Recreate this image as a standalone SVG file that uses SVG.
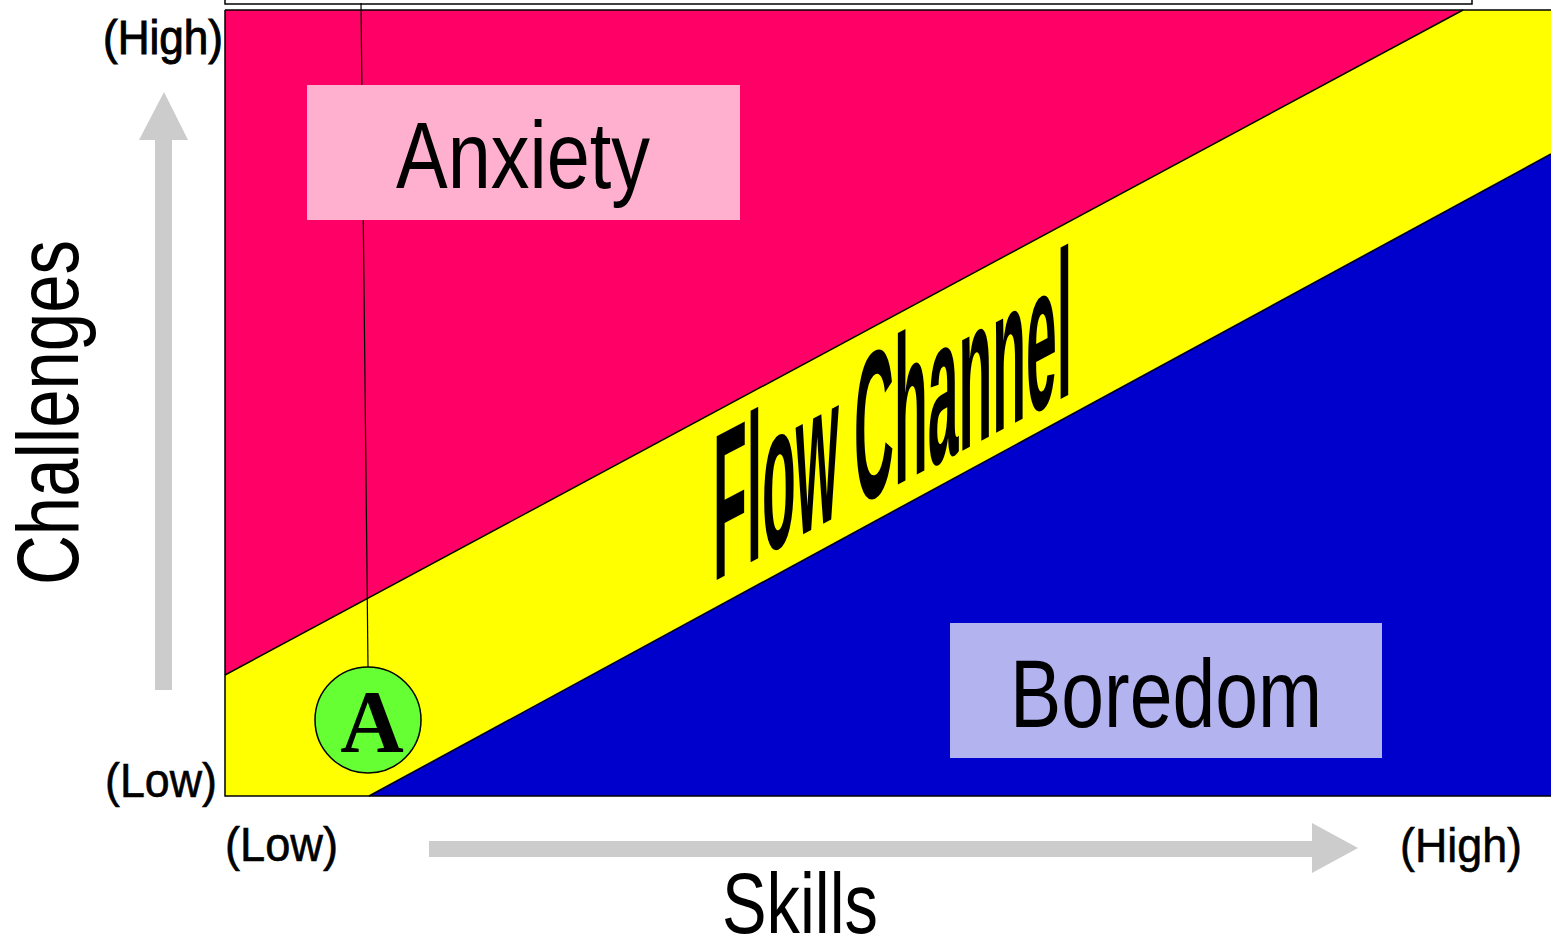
<svg xmlns="http://www.w3.org/2000/svg" width="1551" height="938" viewBox="0 0 1551 938">
<style>
.lbl{font-family:"Liberation Sans",Arial,sans-serif;fill:#000}
.edge{stroke:#000;stroke-width:1.5;fill:none}
.arrow{fill:#CCCCCC}
</style>
<rect width="1551" height="938" fill="#FFFFFF"/>
<g id="top-box">
<rect x="225" y="-10" width="1247" height="14" fill="#FFFFFF" stroke="#000" stroke-width="1.5"/>
</g>
<g id="anxiety-region">
<polygon points="225,10 1463,10 225,675" fill="#FF0066"/>
</g>
<g id="flow-region">
<polygon points="225,675 1463,10 1551,10 1551,154 369,796 225,796" fill="#FFFF00"/>
</g>
<g id="boredom-region">
<polygon points="369,796 1551,154 1551,796" fill="#0000CC"/>
</g>
<g id="connectors">
<line class="edge" x1="225" y1="675" x2="1463" y2="10"/>
<line class="edge" x1="369" y1="796" x2="1551" y2="154"/>
<polyline class="edge" points="225,10 225,796 1551,796"/>
<line class="edge" x1="225" y1="10" x2="1551" y2="10"/>
<line stroke="#000" stroke-width="1.2" x1="361" y1="3" x2="368" y2="667"/>
<rect class="arrow" x="155" y="139" width="17" height="551"/>
<polygon class="arrow" points="139,140 188,140 164,92"/>
<rect class="arrow" x="429" y="841" width="884" height="16"/>
<polygon class="arrow" points="1312,823 1312,873 1358,848"/>
</g>
<g id="anxiety">
<rect x="307" y="85" width="433" height="135" fill="#FFB0CF"/>
<text class="lbl" x="396" y="188" font-size="95" textLength="254" lengthAdjust="spacingAndGlyphs">Anxiety</text>
</g>
<g id="boredom">
<rect x="950" y="623" width="432" height="135" fill="#B3B3EF"/>
<text class="lbl" x="1010" y="727" font-size="96" textLength="312" lengthAdjust="spacingAndGlyphs">Boredom</text>
</g>
<g id="flow-channel">
<text class="lbl" font-weight="bold" font-size="209" transform="matrix(1,-0.527,0,1,713,582)" x="0" y="0" textLength="359" lengthAdjust="spacingAndGlyphs">Flow Channel</text>
</g>
<g id="point-a">
<circle cx="368" cy="720" r="53" fill="#66FF33" stroke="#000" stroke-width="1.5"/>
<text x="372" y="751" font-family="'Liberation Serif','Times New Roman',serif" font-weight="bold" font-size="88" text-anchor="middle">A</text>
</g>
<g id="axis-labels">
<text class="lbl" x="103" y="54" font-size="48" stroke="#000" stroke-width="1" textLength="120" lengthAdjust="spacingAndGlyphs">(High)</text>
<text class="lbl" x="105" y="797" font-size="48" stroke="#000" stroke-width="0.6" textLength="112" lengthAdjust="spacingAndGlyphs">(Low)</text>
<text class="lbl" x="225" y="861" font-size="48" stroke="#000" stroke-width="0.6" textLength="113" lengthAdjust="spacingAndGlyphs">(Low)</text>
<text class="lbl" x="1400" y="862" font-size="48" stroke="#000" stroke-width="0.6" textLength="122" lengthAdjust="spacingAndGlyphs">(High)</text>
<text class="lbl" x="722" y="933" font-size="85" textLength="156" lengthAdjust="spacingAndGlyphs">Skills</text>
<text class="lbl" transform="translate(78,585) rotate(-90)" x="0" y="0" font-size="88" textLength="345" lengthAdjust="spacingAndGlyphs">Challenges</text>
</g>
</svg>
